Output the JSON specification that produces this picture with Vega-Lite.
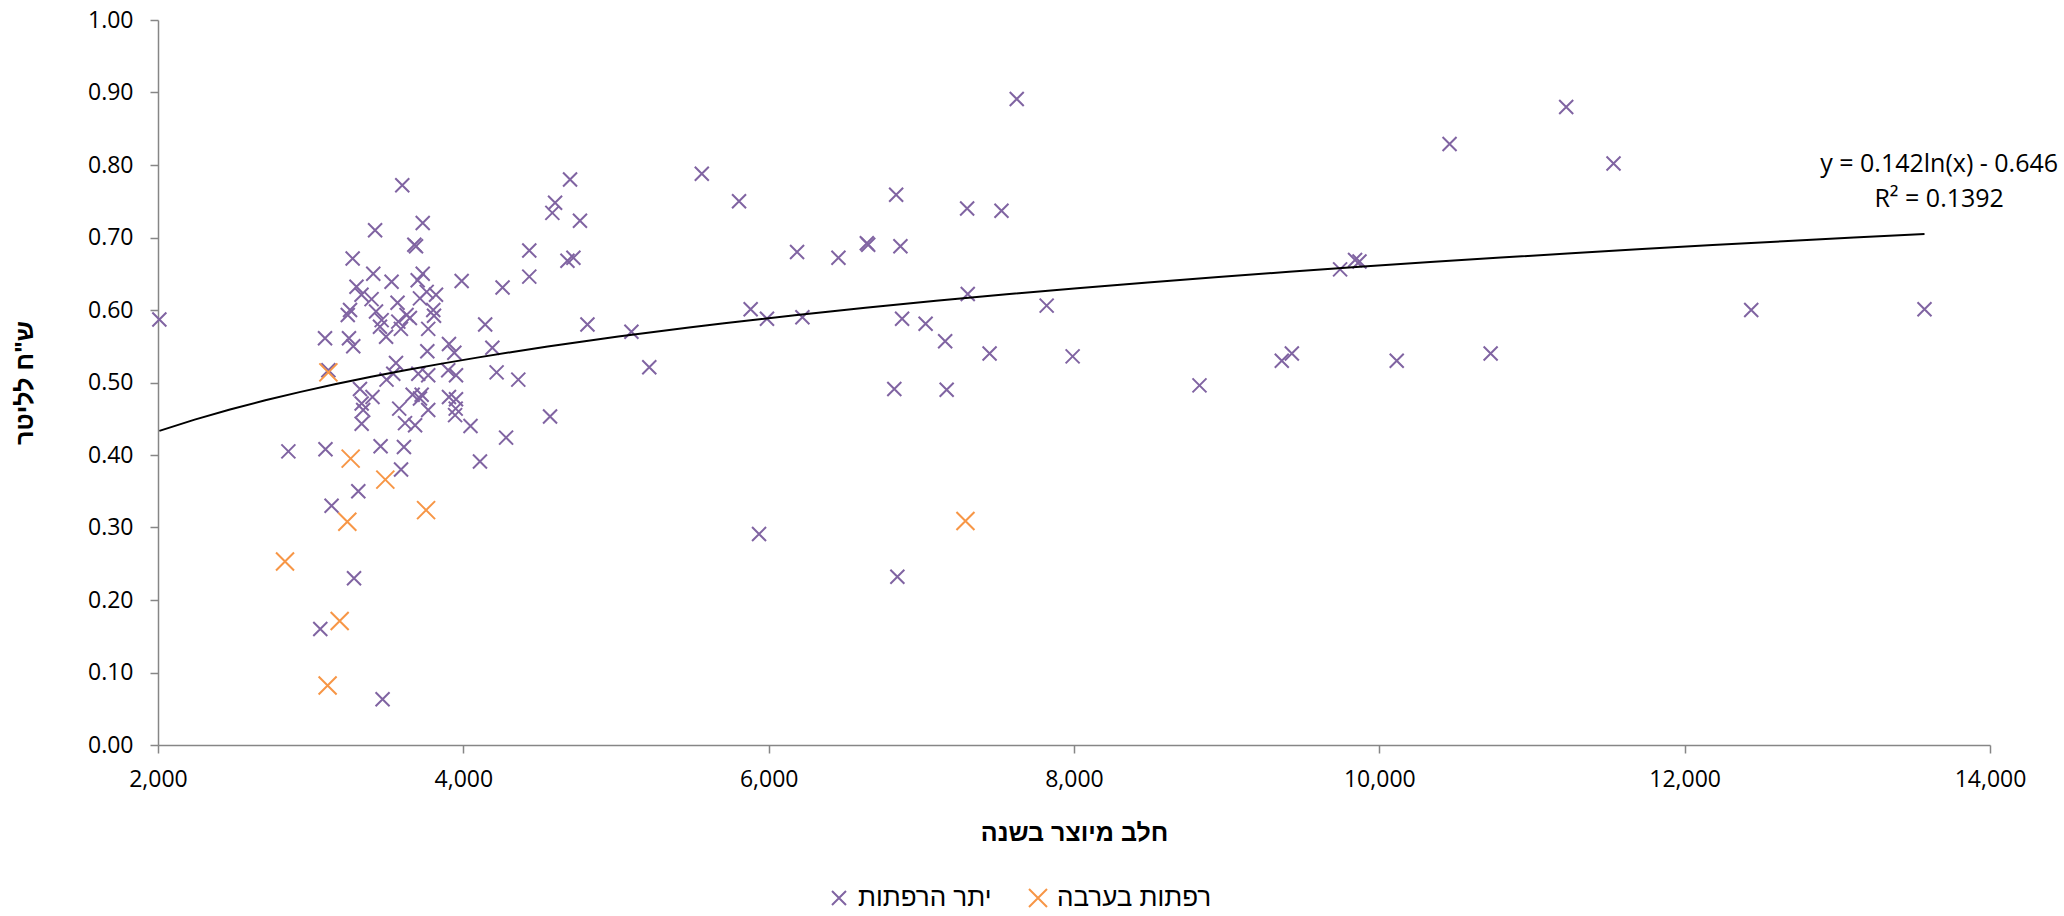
{
  "$schema": "https://vega.github.io/schema/vega-lite/v6.json",
  "width": 1832,
  "height": 725,
  "autosize": {"type": "none"},
  "padding": {"left": 158, "top": 20, "right": 74, "bottom": 171},
  "background": "white",
  "config": {
    "view": {"stroke": null},
    "font": "Open Sans, DejaVu Sans, sans-serif",
    "axis": {
      "grid": false,
      "domainColor": "#868686",
      "tickColor": "#868686",
      "domainWidth": 1.5,
      "tickWidth": 1.5,
      "tickSize": 8,
      "labelColor": "#000000",
      "titleColor": "#000000",
      "labelFont": "Open Sans, DejaVu Sans, sans-serif",
      "titleFont": "Liberation Sans, Arial, DejaVu Sans, sans-serif",
      "labelFontSize": 23,
      "titleFontSize": 25,
      "titleFontWeight": "bold"
    }
  },
  "datasets": {
    "pts": [
      {"series": "יתר הרפתות", "milk": 2009, "price": 0.587},
      {"series": "יתר הרפתות", "milk": 3600, "price": 0.772},
      {"series": "יתר הרפתות", "milk": 4699, "price": 0.780},
      {"series": "יתר הרפתות", "milk": 4601, "price": 0.748},
      {"series": "יתר הרפתות", "milk": 4583, "price": 0.734},
      {"series": "יתר הרפתות", "milk": 4764, "price": 0.723},
      {"series": "יתר הרפתות", "milk": 3422, "price": 0.710},
      {"series": "יתר הרפתות", "milk": 3734, "price": 0.720},
      {"series": "יתר הרפתות", "milk": 3679, "price": 0.690},
      {"series": "יתר הרפתות", "milk": 3690, "price": 0.688},
      {"series": "יתר הרפתות", "milk": 4432, "price": 0.682},
      {"series": "יתר הרפתות", "milk": 4721, "price": 0.672},
      {"series": "יתר הרפתות", "milk": 4682, "price": 0.668},
      {"series": "יתר הרפתות", "milk": 3275, "price": 0.671},
      {"series": "יתר הרפתות", "milk": 4432, "price": 0.646},
      {"series": "יתר הרפתות", "milk": 3410, "price": 0.650},
      {"series": "יתר הרפתות", "milk": 3734, "price": 0.650},
      {"series": "יתר הרפתות", "milk": 3530, "price": 0.639},
      {"series": "יתר הרפתות", "milk": 3701, "price": 0.641},
      {"series": "יתר הרפתות", "milk": 3989, "price": 0.640},
      {"series": "יתר הרפתות", "milk": 4257, "price": 0.631},
      {"series": "יתר הרפתות", "milk": 3300, "price": 0.632},
      {"series": "יתר הרפתות", "milk": 3333, "price": 0.621},
      {"series": "יתר הרפתות", "milk": 3399, "price": 0.615},
      {"series": "יתר הרפתות", "milk": 3760, "price": 0.625},
      {"series": "יתר הרפתות", "milk": 3821, "price": 0.621},
      {"series": "יתר הרפתות", "milk": 3716, "price": 0.616},
      {"series": "יתר הרפתות", "milk": 3569, "price": 0.610},
      {"series": "יתר הרפתות", "milk": 3803, "price": 0.600},
      {"series": "יתר הרפתות", "milk": 3808, "price": 0.592},
      {"series": "יתר הרפתות", "milk": 3258, "price": 0.600},
      {"series": "יתר הרפתות", "milk": 3243, "price": 0.593},
      {"series": "יתר הרפתות", "milk": 3428, "price": 0.598},
      {"series": "יתר הרפתות", "milk": 3465, "price": 0.586},
      {"series": "יתר הרפתות", "milk": 3454, "price": 0.577},
      {"series": "יתר הרפתות", "milk": 3628, "price": 0.593},
      {"series": "יתר הרפתות", "milk": 3650, "price": 0.589},
      {"series": "יתר הרפתות", "milk": 3574, "price": 0.584},
      {"series": "יתר הרפתות", "milk": 3591, "price": 0.574},
      {"series": "יתר הרפתות", "milk": 3494, "price": 0.563},
      {"series": "יתר הרפתות", "milk": 3770, "price": 0.574},
      {"series": "יתר הרפתות", "milk": 4143, "price": 0.580},
      {"series": "יתר הרפתות", "milk": 4813, "price": 0.580},
      {"series": "יתר הרפתות", "milk": 5101, "price": 0.570},
      {"series": "יתר הרפתות", "milk": 3094, "price": 0.561},
      {"series": "יתר הרפתות", "milk": 3251, "price": 0.561},
      {"series": "יתר הרפתות", "milk": 3279, "price": 0.550},
      {"series": "יתר הרפתות", "milk": 4190, "price": 0.548},
      {"series": "יתר הרפתות", "milk": 3764, "price": 0.543},
      {"series": "יתר הרפתות", "milk": 3906, "price": 0.553},
      {"series": "יתר הרפתות", "milk": 3941, "price": 0.541},
      {"series": "יתר הרפתות", "milk": 3116, "price": 0.517},
      {"series": "יתר הרפתות", "milk": 3559, "price": 0.527},
      {"series": "יתר הרפתות", "milk": 3541, "price": 0.512},
      {"series": "יתר הרפתות", "milk": 3705, "price": 0.512},
      {"series": "יתר הרפתות", "milk": 3770, "price": 0.510},
      {"series": "יתר הרפתות", "milk": 3901, "price": 0.517},
      {"series": "יתר הרפתות", "milk": 3952, "price": 0.510},
      {"series": "יתר הרפתות", "milk": 4218, "price": 0.514},
      {"series": "יתר הרפתות", "milk": 4360, "price": 0.504},
      {"series": "יתר הרפתות", "milk": 3497, "price": 0.504},
      {"series": "יתר הרפתות", "milk": 3323, "price": 0.491},
      {"series": "יתר הרפתות", "milk": 3405, "price": 0.480},
      {"series": "יתר הרפתות", "milk": 3334, "price": 0.471},
      {"series": "יתר הרפתות", "milk": 3344, "price": 0.462},
      {"series": "יתר הרפתות", "milk": 3334, "price": 0.443},
      {"series": "יתר הרפתות", "milk": 3668, "price": 0.483},
      {"series": "יתר הרפתות", "milk": 3716, "price": 0.478},
      {"series": "יתר הרפתות", "milk": 3727, "price": 0.483},
      {"series": "יתר הרפתות", "milk": 3906, "price": 0.480},
      {"series": "יתר הרפתות", "milk": 3952, "price": 0.477},
      {"series": "יתר הרפתות", "milk": 3950, "price": 0.464},
      {"series": "יתר הרפתות", "milk": 3946, "price": 0.455},
      {"series": "יתר הרפתות", "milk": 3770, "price": 0.462},
      {"series": "יתר הרפתות", "milk": 3580, "price": 0.464},
      {"series": "יתר הרפתות", "milk": 3618, "price": 0.444},
      {"series": "יתר הרפתות", "milk": 3684, "price": 0.441},
      {"series": "יתר הרפתות", "milk": 4047, "price": 0.440},
      {"series": "יתר הרפתות", "milk": 4568, "price": 0.453},
      {"series": "יתר הרפתות", "milk": 4280, "price": 0.424},
      {"series": "יתר הרפתות", "milk": 2854, "price": 0.405},
      {"series": "יתר הרפתות", "milk": 3097, "price": 0.408},
      {"series": "יתר הרפתות", "milk": 3458, "price": 0.412},
      {"series": "יתר הרפתות", "milk": 3611, "price": 0.411},
      {"series": "יתר הרפתות", "milk": 4109, "price": 0.391},
      {"series": "יתר הרפתות", "milk": 3592, "price": 0.380},
      {"series": "יתר הרפתות", "milk": 3312, "price": 0.350},
      {"series": "יתר הרפתות", "milk": 3137, "price": 0.330},
      {"series": "יתר הרפתות", "milk": 3284, "price": 0.230},
      {"series": "יתר הרפתות", "milk": 3063, "price": 0.160},
      {"series": "יתר הרפתות", "milk": 3471, "price": 0.063},
      {"series": "יתר הרפתות", "milk": 7625, "price": 0.891},
      {"series": "יתר הרפתות", "milk": 5562, "price": 0.788},
      {"series": "יתר הרפתות", "milk": 5806, "price": 0.750},
      {"series": "יתר הרפתות", "milk": 6835, "price": 0.759},
      {"series": "יתר הרפתות", "milk": 7300, "price": 0.740},
      {"series": "יתר הרפתות", "milk": 7525, "price": 0.737},
      {"series": "יתר הרפתות", "milk": 6186, "price": 0.680},
      {"series": "יתר הרפתות", "milk": 6457, "price": 0.672},
      {"series": "יתר הרפתות", "milk": 6643, "price": 0.692},
      {"series": "יתר הרפתות", "milk": 6652, "price": 0.690},
      {"series": "יתר הרפתות", "milk": 6863, "price": 0.688},
      {"series": "יתר הרפתות", "milk": 7304, "price": 0.622},
      {"series": "יתר הרפתות", "milk": 7821, "price": 0.606},
      {"series": "יתר הרפתות", "milk": 5218, "price": 0.521},
      {"series": "יתר הרפתות", "milk": 5882, "price": 0.601},
      {"series": "יתר הרפתות", "milk": 5989, "price": 0.588},
      {"series": "יתר הרפתות", "milk": 6221, "price": 0.590},
      {"series": "יתר הרפתות", "milk": 6874, "price": 0.588},
      {"series": "יתר הרפתות", "milk": 7028, "price": 0.581},
      {"series": "יתר הרפתות", "milk": 7156, "price": 0.557},
      {"series": "יתר הרפתות", "milk": 7447, "price": 0.540},
      {"series": "יתר הרפתות", "milk": 7991, "price": 0.536},
      {"series": "יתר הרפתות", "milk": 6823, "price": 0.491},
      {"series": "יתר הרפתות", "milk": 7166, "price": 0.490},
      {"series": "יתר הרפתות", "milk": 5937, "price": 0.291},
      {"series": "יתר הרפתות", "milk": 6843, "price": 0.232},
      {"series": "יתר הרפתות", "milk": 11224, "price": 0.880},
      {"series": "יתר הרפתות", "milk": 10460, "price": 0.829},
      {"series": "יתר הרפתות", "milk": 9743, "price": 0.656},
      {"series": "יתר הרפתות", "milk": 9841, "price": 0.669},
      {"series": "יתר הרפתות", "milk": 9870, "price": 0.667},
      {"series": "יתר הרפתות", "milk": 8822, "price": 0.496},
      {"series": "יתר הרפתות", "milk": 9361, "price": 0.530},
      {"series": "יתר הרפתות", "milk": 9427, "price": 0.540},
      {"series": "יתר הרפתות", "milk": 10114, "price": 0.530},
      {"series": "יתר הרפתות", "milk": 10729, "price": 0.540},
      {"series": "יתר הרפתות", "milk": 11534, "price": 0.802},
      {"series": "יתר הרפתות", "milk": 12436, "price": 0.600},
      {"series": "יתר הרפתות", "milk": 13571, "price": 0.601},
      {"series": "רפתות בערבה", "milk": 3116, "price": 0.514},
      {"series": "רפתות בערבה", "milk": 3262, "price": 0.395},
      {"series": "רפתות בערבה", "milk": 3489, "price": 0.366},
      {"series": "רפתות בערבה", "milk": 3240, "price": 0.308},
      {"series": "רפתות בערבה", "milk": 3756, "price": 0.324},
      {"series": "רפתות בערבה", "milk": 2832, "price": 0.253},
      {"series": "רפתות בערבה", "milk": 3190, "price": 0.171},
      {"series": "רפתות בערבה", "milk": 3111, "price": 0.082},
      {"series": "רפתות בערבה", "milk": 7289, "price": 0.309}
    ]
  },
  "layer": [
    {
      "data": {"name": "pts"},
      "mark": {"type": "point", "shape": "M-1,-1L1,1M-1,1L1,-1", "filled": false, "strokeWidth": 2, "opacity": 1},
      "encoding": {
        "x": {
          "field": "milk", "type": "quantitative",
          "scale": {"domain": [2000, 14000], "nice": false, "zero": false},
          "axis": {"values": [2000, 4000, 6000, 8000, 10000, 12000, 14000], "format": ",.0f", "title": "חלב מיוצר בשנה", "labelPadding": 15, "titlePadding": 29, "labelFlush": false, "labelOverlap": false}
        },
        "y": {
          "field": "price", "type": "quantitative",
          "scale": {"domain": [0, 1], "nice": false},
          "axis": {"values": [0, 0.1, 0.2, 0.3, 0.4, 0.5, 0.6, 0.7, 0.8, 0.9, 1.0], "format": ".2f", "title": "ש\"ח לליטר", "labelPadding": 17, "titlePadding": 50, "labelOverlap": false}
        },
        "color": {
          "field": "series", "type": "nominal",
          "scale": {"domain": ["יתר הרפתות", "רפתות בערבה"], "range": ["#8064A2", "#F79646"]},
          "legend": {
            "orient": "none", "legendX": 668, "legendY": 865, "direction": "horizontal", "title": null,
            "symbolType": "M-1,-1L1,1M-1,1L1,-1", "symbolSize": 196, "symbolStrokeWidth": 2,
            "labelFont": "Liberation Sans, Arial, DejaVu Sans, sans-serif",
            "labelFontSize": 26, "labelColor": "#000000", "labelOffset": 6, "columnPadding": 33, "padding": 0
          }
        },
        "size": {
          "field": "series", "type": "nominal",
          "scale": {"domain": ["יתר הרפתות", "רפתות בערבה"], "range": [196, 324]},
          "legend": null
        }
      }
    },
    {
      "data": {"name": "pts"},
      "transform": [
        {"regression": "price", "on": "milk", "method": "log"}
      ],
      "mark": {"type": "line", "color": "#000000", "strokeWidth": 2},
      "encoding": {
        "x": {"field": "milk", "type": "quantitative"},
        "y": {"field": "price", "type": "quantitative"}
      }
    },
    {
      "data": {"values": [{}]},
      "mark": {"type": "text", "align": "center", "baseline": "middle", "fontSize": 25, "lineHeight": 35, "color": "#000000", "font": "Open Sans, DejaVu Sans, sans-serif"},
      "encoding": {
        "x": {"datum": 13667},
        "y": {"datum": 0.802},
        "text": {"value": ["y = 0.142ln(x) - 0.646", "R² = 0.1392"]}
      }
    }
  ]
}
